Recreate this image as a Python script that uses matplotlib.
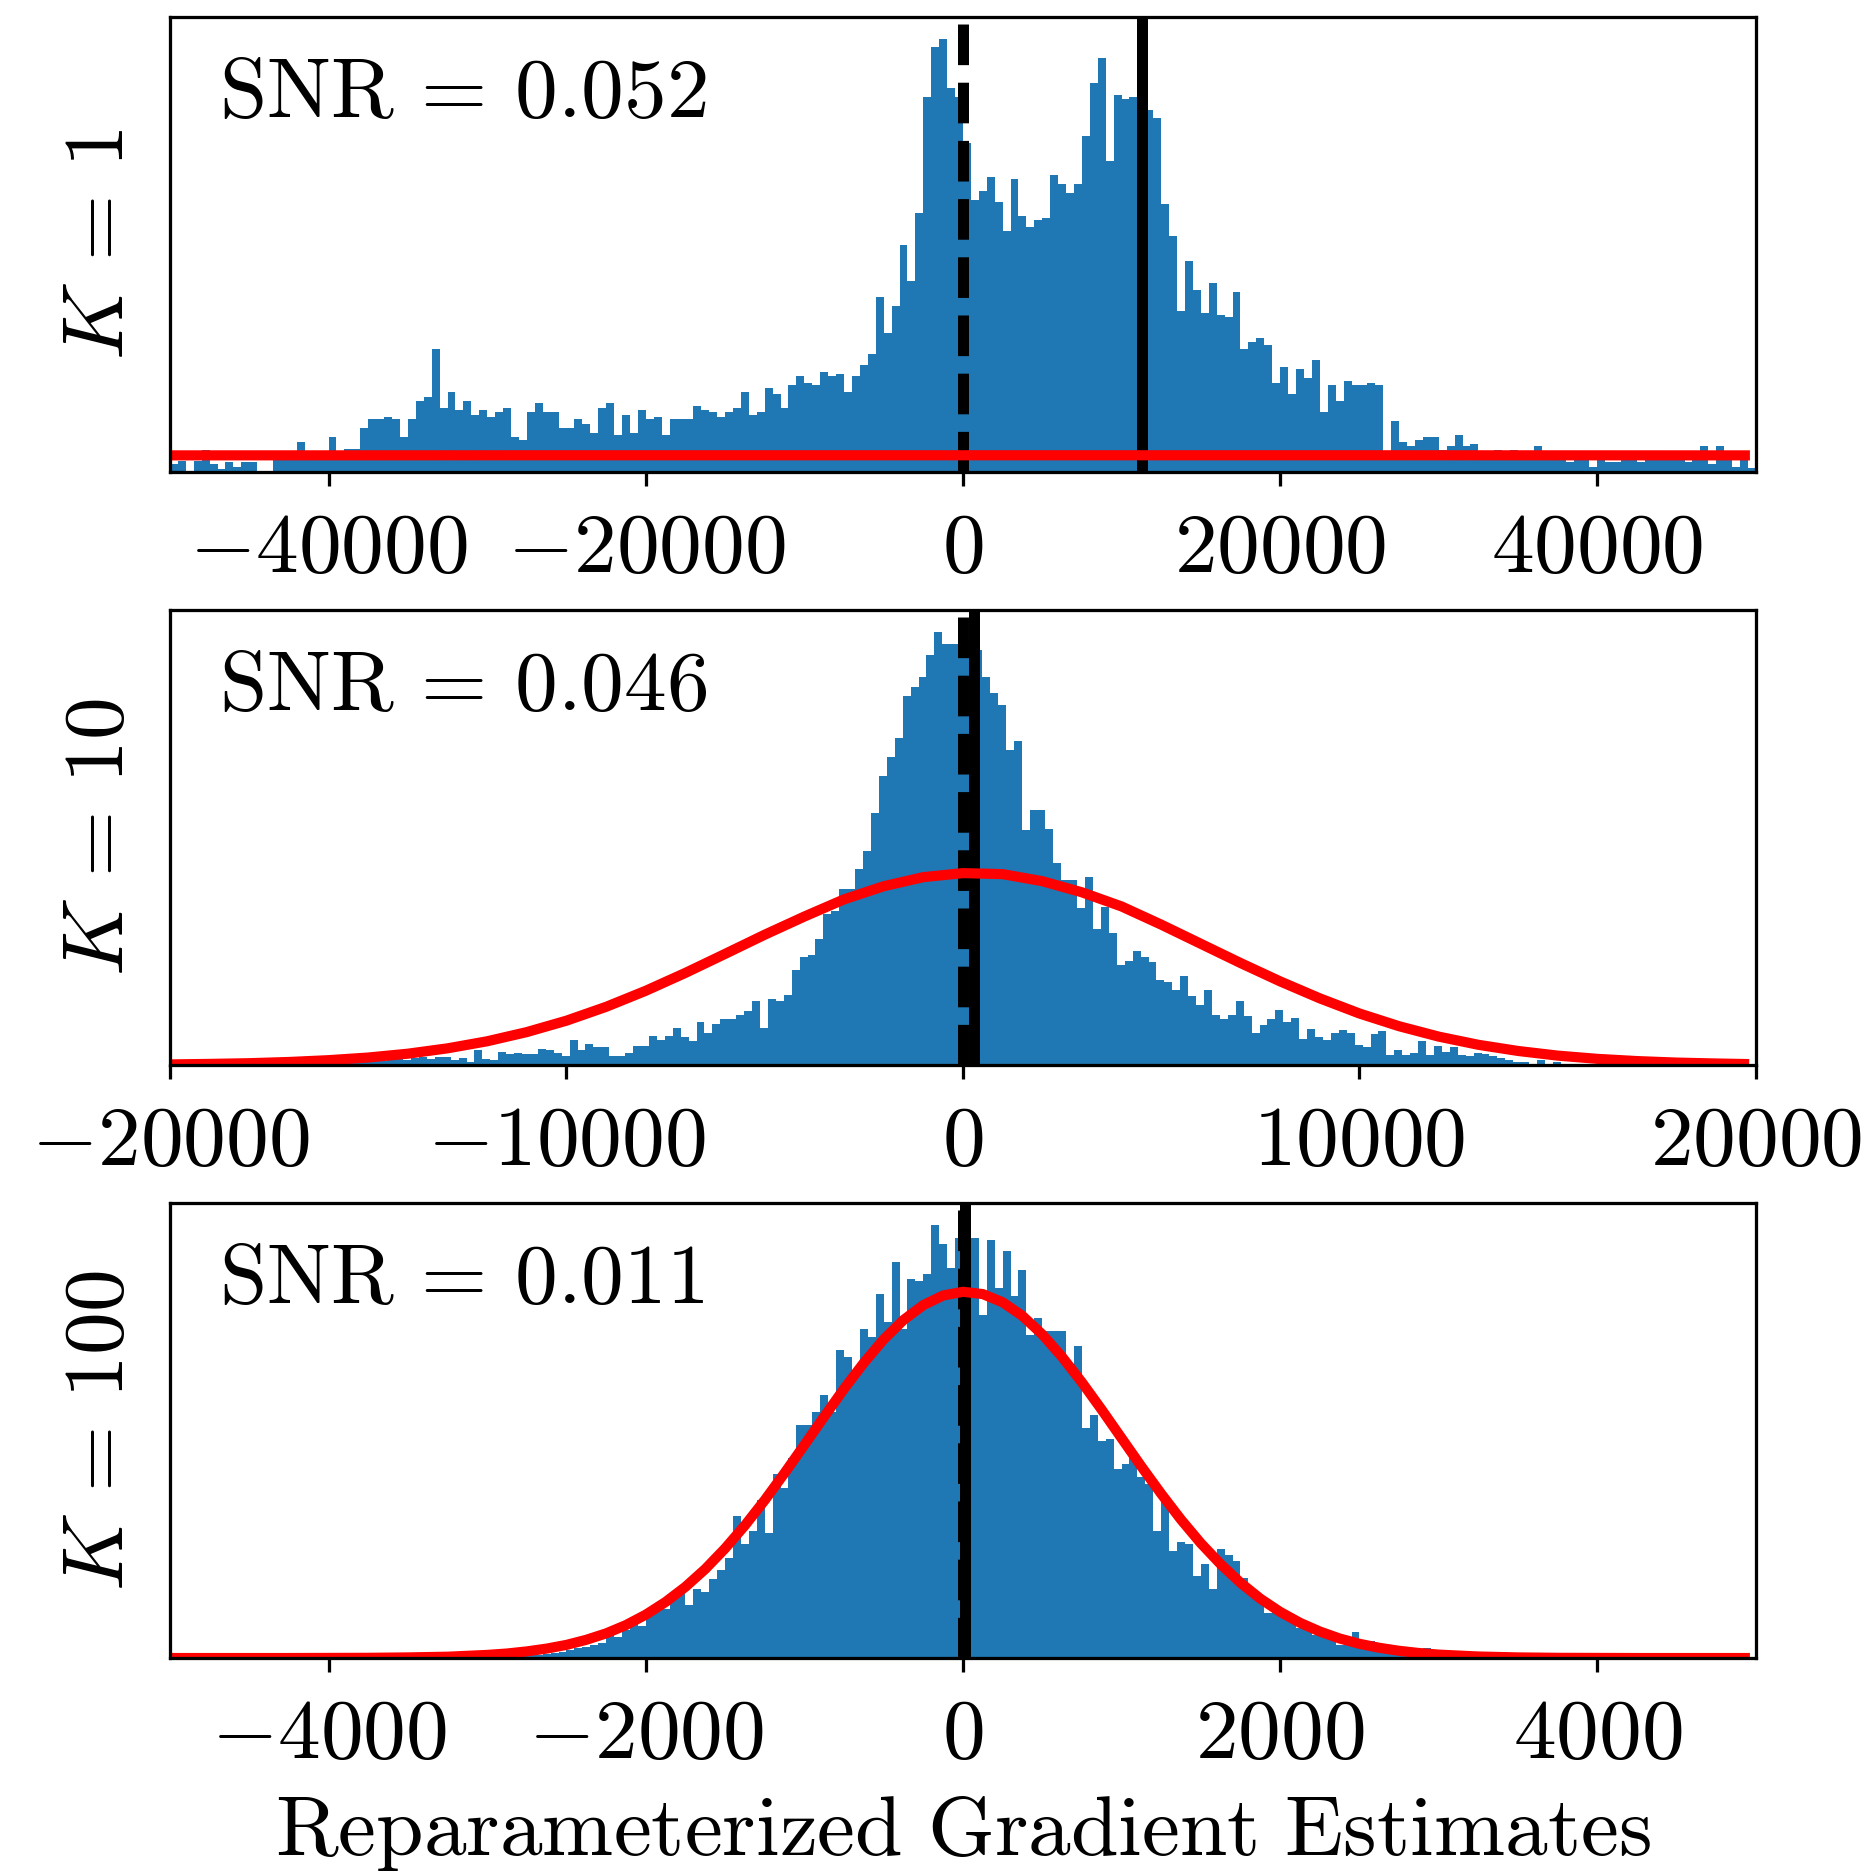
import numpy as np
import matplotlib.pyplot as plt
from matplotlib.ticker import FuncFormatter

plt.rcParams['mathtext.fontset'] = 'cm'
plt.rcParams['font.size'] = 21

#########################################################################################################################################
## values (bar heights in pixel units, arbitrary y scale)

K_values = [1, 10, 100]
snr_labels = ['0.052', '0.046', '0.011']
grad_means = [11300, 270, 11]
x_limits = [50000, 20000, 5000]
x_ticks = [[-40000, -20000, 0, 20000, 40000],
           [-20000, -10000, 0, 10000, 20000],
           [-4000, -2000, 0, 2000, 4000]]

# histogram bins: first left edge and bin width
bin_start = [-50000, -19920, -5000]
bin_width = [500, 200, 50]

hist_k1 = [7.7, 11, 0, 11, 22, 7.7, 2.7, 9.7, 4.7, 9.7, 9.7, 0, 0.5,
           12, 13, 14, 29.7, 20, 20, 21, 34.7, 21, 22.7, 22.7, 43.7,
           52.7, 52.7, 54.7, 52.7, 34.7, 52.7, 70.7, 74.7, 122.3, 63.7, 79.7, 61.7, 70.7,
           56.7, 61.7, 54.7, 59.7, 63.7, 34.7, 31.7, 59.7, 68.7, 59.7, 59.7, 43.7,
           43.7, 52.7, 47.7, 38.7, 63.7, 68.7, 36.7, 56.7, 38.7, 61.7, 52.7, 54.7, 36.7,
           52.7, 52.7, 52.7, 65.7, 61.7, 59.7, 54.7, 59.7, 63.7, 79.7, 56.7, 59.7, 83.7,
           77.7, 63.7, 86.7, 95.7, 88.7, 86.7, 99.7, 95.7, 97.7, 79.7, 95.7, 106.7, 117.7,
           174.7, 138.7, 165.7, 226.7, 190.7, 258.7, 373.7, 423.7, 432.3, 382.7, 373.7,
           328.7, 271.7, 280.7, 294.7, 269.7, 240.7, 292.7, 255.7, 244.7, 251.7, 253.7,
           296.7, 287.7, 278.7, 287.7, 335.7, 387.7, 412.7, 310.7, 375.7, 371.7, 373.7,
           365, 360.7, 353.7, 267.7, 235.7, 160.7, 210.7, 181.7, 158.7, 188.7, 156.7,
           154.7, 179.7, 122.7, 129.7, 133.7, 126.7, 88.7, 104.7, 77.7, 102.7, 93.7,
           111.7, 59.7, 86.7, 70.7, 90.7, 86.7,
           86.7, 88.7, 86.7, 17, 50.7, 29.7, 25.7, 31.7, 34.7, 34.7, 22.3, 25.7, 36.7,
           25.7, 27.7, 18, 17, 22.3, 18, 22.3, 17, 16, 25.7, 15, 14, 16, 10, 13, 14, 5,
           14, 10, 10, 13, 13, 10, 13, 12, 14, 12, 13, 10, 13, 25.7, 7.7, 25.7, 13, 5,
           11.7, 4.3]

hist_k10 = [0.5, 0.5, 0.5, 1, 0.5, 1, 1, 0.5, 1, 1, 1.5, 1, 1.5, 2, 1.5, 2, 2, 2.5, 2, 3,
            10, 4, 5, 3, 5, 6, 4, 6, 7, 5, 7, 8, 6,
            8.3, 8.3, 5, 7.3, 3.3, 14.7, 6, 5, 13.3, 10.7, 12, 10.7, 10.7, 16.3, 14.7, 11.7,
            9, 25, 15, 20.7, 18, 18, 9, 9, 12, 19, 19, 29, 25, 29, 37, 28, 24, 43, 32, 41,
            46, 46, 50, 53, 63, 37, 65, 63, 69, 94, 107, 109, 125, 150, 152, 174, 174, 194,
            212, 250, 286, 305, 324, 365, 374, 384, 406, 429, 417, 417,
            417, 420, 411, 384, 368, 356, 312, 321, 233, 252, 252, 234, 200, 183, 183, 155,
            186, 135, 156, 131, 99, 103, 113, 107, 102, 84, 82, 74, 88, 68, 59, 74, 50, 46,
            50, 63, 49, 32, 40, 46, 54, 43, 47, 26, 36, 28, 25, 32, 35, 32,
            20, 18, 31, 34, 10, 15, 10, 12, 24, 10, 19, 13, 18, 10, 9, 12, 11, 9, 7, 5,
            3.3, 3.3, 1.3, 5, 1.3, 3.3,
            1, 0.5, 1, 0.5, 0, 1, 0.5, 0, 0.5, 0, 0, 0.5, 0, 0, 0, 0.5, 0, 0, 0, 0, 0, 0, 0, 0, 0]

hist_k100 = [0] * 40 + \
            [1, 1, 1.5, 2, 2.5, 3, 3.5, 4.5, 5, 6.5,
             8, 10, 11, 13, 15,
             23, 21, 28, 36, 32, 46, 52, 49, 66, 66, 53, 69, 66, 79, 88, 100, 142, 114, 127,
             158, 125, 184, 170, 200, 233, 233, 246, 263, 246, 308, 301, 282, 329, 321, 364,
             336, 396, 329, 379, 377, 384, 433, 414, 390, 420,
             400, 420, 343, 418, 370, 407, 362, 388, 323, 340, 327, 327, 327, 290, 312, 230,
             243, 217, 219, 189, 194, 204, 181, 174, 127, 161, 107, 116, 114, 82, 94, 69, 109,
             103, 97, 80, 67, 60, 45, 49, 43, 38, 30, 29, 23, 23, 20, 13, 20, 26, 15,
             17, 12, 7, 7, 6, 6, 5, 10, 5, 4, 4, 3, 3, 3, 4, 6, 5,
             2, 1, 1.5, 1, 0.5, 1, 0.5, 0.5, 0, 0.5, 0, 0, 0.5] + [0] * 19

# red normal-fit curve, read at sample points
red_x_k1 = [-50000, -25000, 0, 25000, 49300]
red_y_k1 = [16.6, 16.7, 16.7, 16.7, 16.6]

red_x_k10 = list(range(-20000, 20000, 1000)) + [19700]
red_y_k10 = [0.6, 1.1, 1.8, 3.0, 4.8, 7.4, 11.2, 16.5, 23.5, 32.6, 43.9, 57.6, 73.5, 91.2,
             110, 129, 147, 164, 177, 186, 190, 189, 182, 171, 157, 139, 120, 101, 82.8, 66,
             51, 38.4, 28.1, 20, 13.9, 9.3, 6.1, 3.9, 2.4, 1.5, 1.0]

red_x_k100 = (list(range(-5000, -3000, 250)) + list(range(-3000, 3000, 125))
              + list(range(3000, 5000, 250)) + [4930])
red_y_k100 = [0, 0, 0, 0, 0.1, 0.2, 0.6, 1.3,
              3.1, 4.5, 6.6, 9.4, 13.1, 18.2, 24.6, 32.9, 43.3, 56.0, 71.1, 88.9,
              109.5, 132.5, 157.7, 184.8, 212.9, 241.2, 269, 295.0, 318.4, 337.8, 352.7, 362.3,
              366, 363.7, 355.5, 341.9, 323.4, 300.9, 275.5, 248.1, 219.7, 191.4, 164.1, 138.3,
              114.7, 93.7, 75.2, 59.3, 46.1, 35.2, 26.5, 19.5, 14.2, 10.2, 7.2, 5.0,
              3.4, 1.5, 0.6, 0.2, 0.1, 0, 0, 0, 0]

hists = [hist_k1, hist_k10, hist_k100]
red_xs = [red_x_k1, red_x_k10, red_x_k100]
red_ys = [red_y_k1, red_y_k10, red_y_k100]

#########################################################################################################################################

DPI = 292.8
fig = plt.figure(figsize=(1874 / DPI, 1876 / DPI), dpi=DPI)
rects = [[0.0907, 0.7484, 0.8463, 0.2425],
         [0.0907, 0.4323, 0.8463, 0.2425],
         [0.0907, 0.1162, 0.8463, 0.2425]]

tick_fmt = FuncFormatter(lambda v, p: r'$%d$' % v)

for i in range(3):
    ax = fig.add_axes(rects[i])
    h = np.array(hists[i])
    edges = bin_start[i] + bin_width[i] * np.arange(len(h))
    ax.bar(edges, h, width=bin_width[i], align='edge', color='#1f77b4', linewidth=0)
    ax.axvline(0, color='k', ls='--', lw=2.7)
    ax.axvline(grad_means[i], color='k', lw=2.7)
    ax.plot(red_xs[i], red_ys[i], color='r', lw=2.5)
    ax.set_xlim(-x_limits[i], x_limits[i])
    ax.set_ylim(0, h.max() * 1.05)
    ax.set_yticks([])
    ax.set_xticks(x_ticks[i])
    ax.xaxis.set_major_formatter(tick_fmt)
    ax.tick_params(axis='x', pad=5)
    ax.text(0.031, 0.78, r'$\mathrm{SNR}\,=\,%s$' % snr_labels[i], transform=ax.transAxes,
            fontsize=21)
    ax.set_ylabel(r'$K\,=\,%d$' % K_values[i])
    ax.yaxis.set_label_coords(-0.018, 0.5)
    if i == 2:
        ax.set_xlabel(r'$\mathrm{Reparameterized\ Gradient\ Estimates}$')
        ax.xaxis.set_label_coords(0.5, -0.29)

fig.savefig('out.png', dpi=DPI)
